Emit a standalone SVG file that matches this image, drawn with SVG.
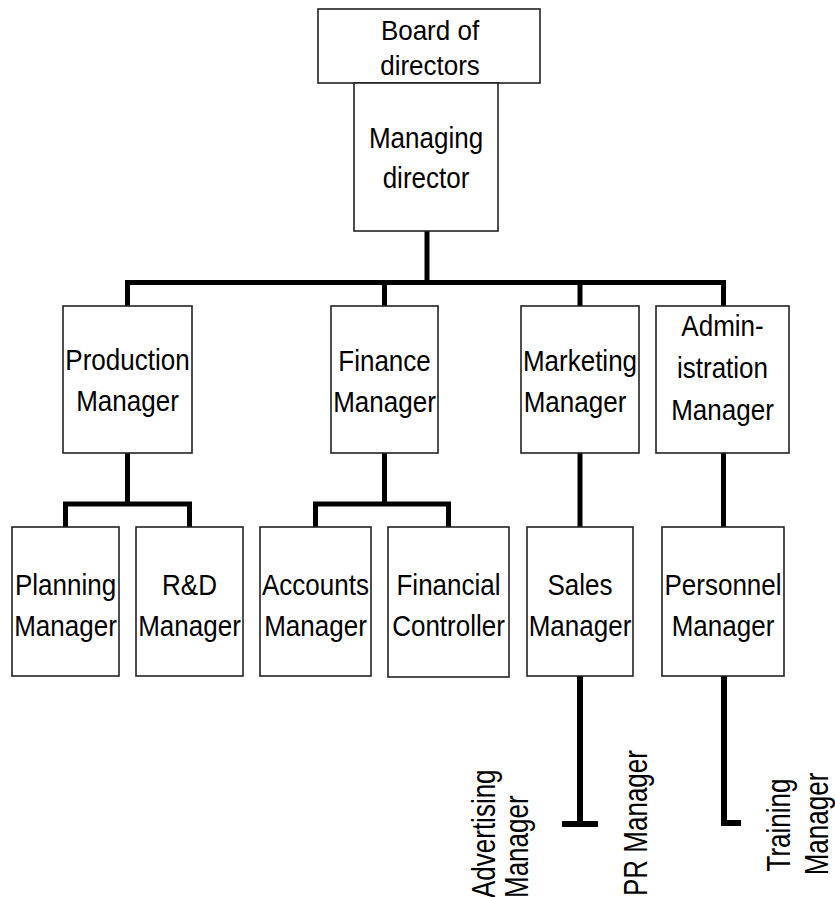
<svg xmlns="http://www.w3.org/2000/svg" width="835" height="897" viewBox="0 0 835 897">
<style>
.box{fill:#fff;stroke:#222;stroke-width:1.6}
.t{font-family:"Liberation Sans",Arial,sans-serif;font-size:26px;fill:#000;text-anchor:middle}
.r{font-family:"Liberation Sans",Arial,sans-serif;font-size:26px;fill:#000}
.c{fill:none;stroke:#000;stroke-width:5;stroke-linecap:butt;stroke-linejoin:miter}
.c2{fill:none;stroke:#000;stroke-width:6;stroke-linecap:butt;stroke-linejoin:miter}
</style>
<rect width="835" height="897" fill="#fff"/>
<g id="connectors">
<path class="c" d="M427,231 V282.5"/>
<path class="c" d="M127.5,306 V282.5 H723.5 V306"/>
<path class="c" d="M384.5,282.5 V306"/>
<path class="c" d="M580,282.5 V306"/>
<path class="c" d="M127.5,453 V504"/>
<path class="c" d="M65.5,527 V504 H189.5 V527"/>
<path class="c" d="M384.5,453 V504"/>
<path class="c" d="M315.5,527 V504 H448.5 V527"/>
<path class="c" d="M580,453 V527"/>
<path class="c" d="M723.5,453 V527"/>
<path class="c2" d="M580,676 V824"/>
<path class="c2" d="M562,824 H598"/>
<path class="c2" d="M724,676 V823 H741"/>
</g>
<g id="board">
<rect class="box" x="318" y="9" width="222" height="74"/>
<text class="t" transform="translate(430,40) scale(1,1.08)">Board of</text>
<text class="t" transform="translate(430,75) scale(1,1.08)">directors</text>
</g>
<g id="managing">
<rect class="box" x="354" y="83" width="144" height="148"/>
<text class="t" transform="translate(426,148) scale(1,1.13)">Managing</text>
<text class="t" transform="translate(426,188) scale(1,1.13)">director</text>
</g>
<g id="production">
<rect class="box" x="63" y="306" width="129" height="147"/>
<text class="t" transform="translate(127.5,370) scale(1,1.13)">Production</text>
<text class="t" transform="translate(127.5,411) scale(1,1.13)">Manager</text>
</g>
<g id="finance">
<rect class="box" x="331" y="306" width="107" height="147"/>
<text class="t" transform="translate(384.5,371) scale(1,1.13)">Finance</text>
<text class="t" transform="translate(384.5,412) scale(1,1.13)">Manager</text>
</g>
<g id="marketing">
<rect class="box" x="521" y="306" width="118" height="147"/>
<text class="t" transform="translate(580,371) scale(1,1.13)">Marketing</text>
<text class="t" transform="translate(575,412) scale(1,1.13)">Manager</text>
</g>
<g id="administration">
<rect class="box" x="656" y="306" width="133" height="147"/>
<text class="t" transform="translate(722.5,336) scale(1,1.13)">Admin-</text>
<text class="t" transform="translate(722.5,378) scale(1,1.13)">istration</text>
<text class="t" transform="translate(722.5,420) scale(1,1.13)">Manager</text>
</g>
<g id="planning">
<rect class="box" x="12" y="527" width="107" height="149"/>
<text class="t" transform="translate(65.5,595) scale(1,1.13)">Planning</text>
<text class="t" transform="translate(65.5,636) scale(1,1.13)">Manager</text>
</g>
<g id="rd">
<rect class="box" x="136" y="527" width="107" height="149"/>
<text class="t" transform="translate(189.5,595) scale(1,1.13)">R&amp;D</text>
<text class="t" transform="translate(189.5,636) scale(1,1.13)">Manager</text>
</g>
<g id="accounts">
<rect class="box" x="260" y="527" width="111" height="149"/>
<text class="t" transform="translate(315.5,595) scale(1,1.13)">Accounts</text>
<text class="t" transform="translate(315.5,636) scale(1,1.13)">Manager</text>
</g>
<g id="financial-controller">
<rect class="box" x="388" y="527" width="121" height="150"/>
<text class="t" transform="translate(448.5,595) scale(1,1.13)">Financial</text>
<text class="t" transform="translate(448.5,636) scale(1,1.13)">Controller</text>
</g>
<g id="sales">
<rect class="box" x="527" y="527" width="106" height="149"/>
<text class="t" transform="translate(580,595) scale(1,1.13)">Sales</text>
<text class="t" transform="translate(580,636) scale(1,1.13)">Manager</text>
</g>
<g id="personnel">
<rect class="box" x="662" y="527" width="122" height="149"/>
<text class="t" transform="translate(723,595) scale(1,1.13)">Personnel</text>
<text class="t" transform="translate(723,636) scale(1,1.13)">Manager</text>
</g>
<g id="advertising">
<text class="r" transform="translate(495,898) rotate(-90) scale(1,1.25)">Advertising</text>
<text class="r" transform="translate(528,898) rotate(-90) scale(1,1.25)">Manager</text>
</g>
<g id="pr">
<text class="r" transform="translate(647,896) rotate(-90) scale(1,1.25)">PR Manager</text>
</g>
<g id="training">
<text class="t" transform="translate(790,825) rotate(-90) scale(1,1.25)">Training</text>
<text class="t" transform="translate(828,824) rotate(-90) scale(1,1.25)">Manager</text>
</g>
</svg>
